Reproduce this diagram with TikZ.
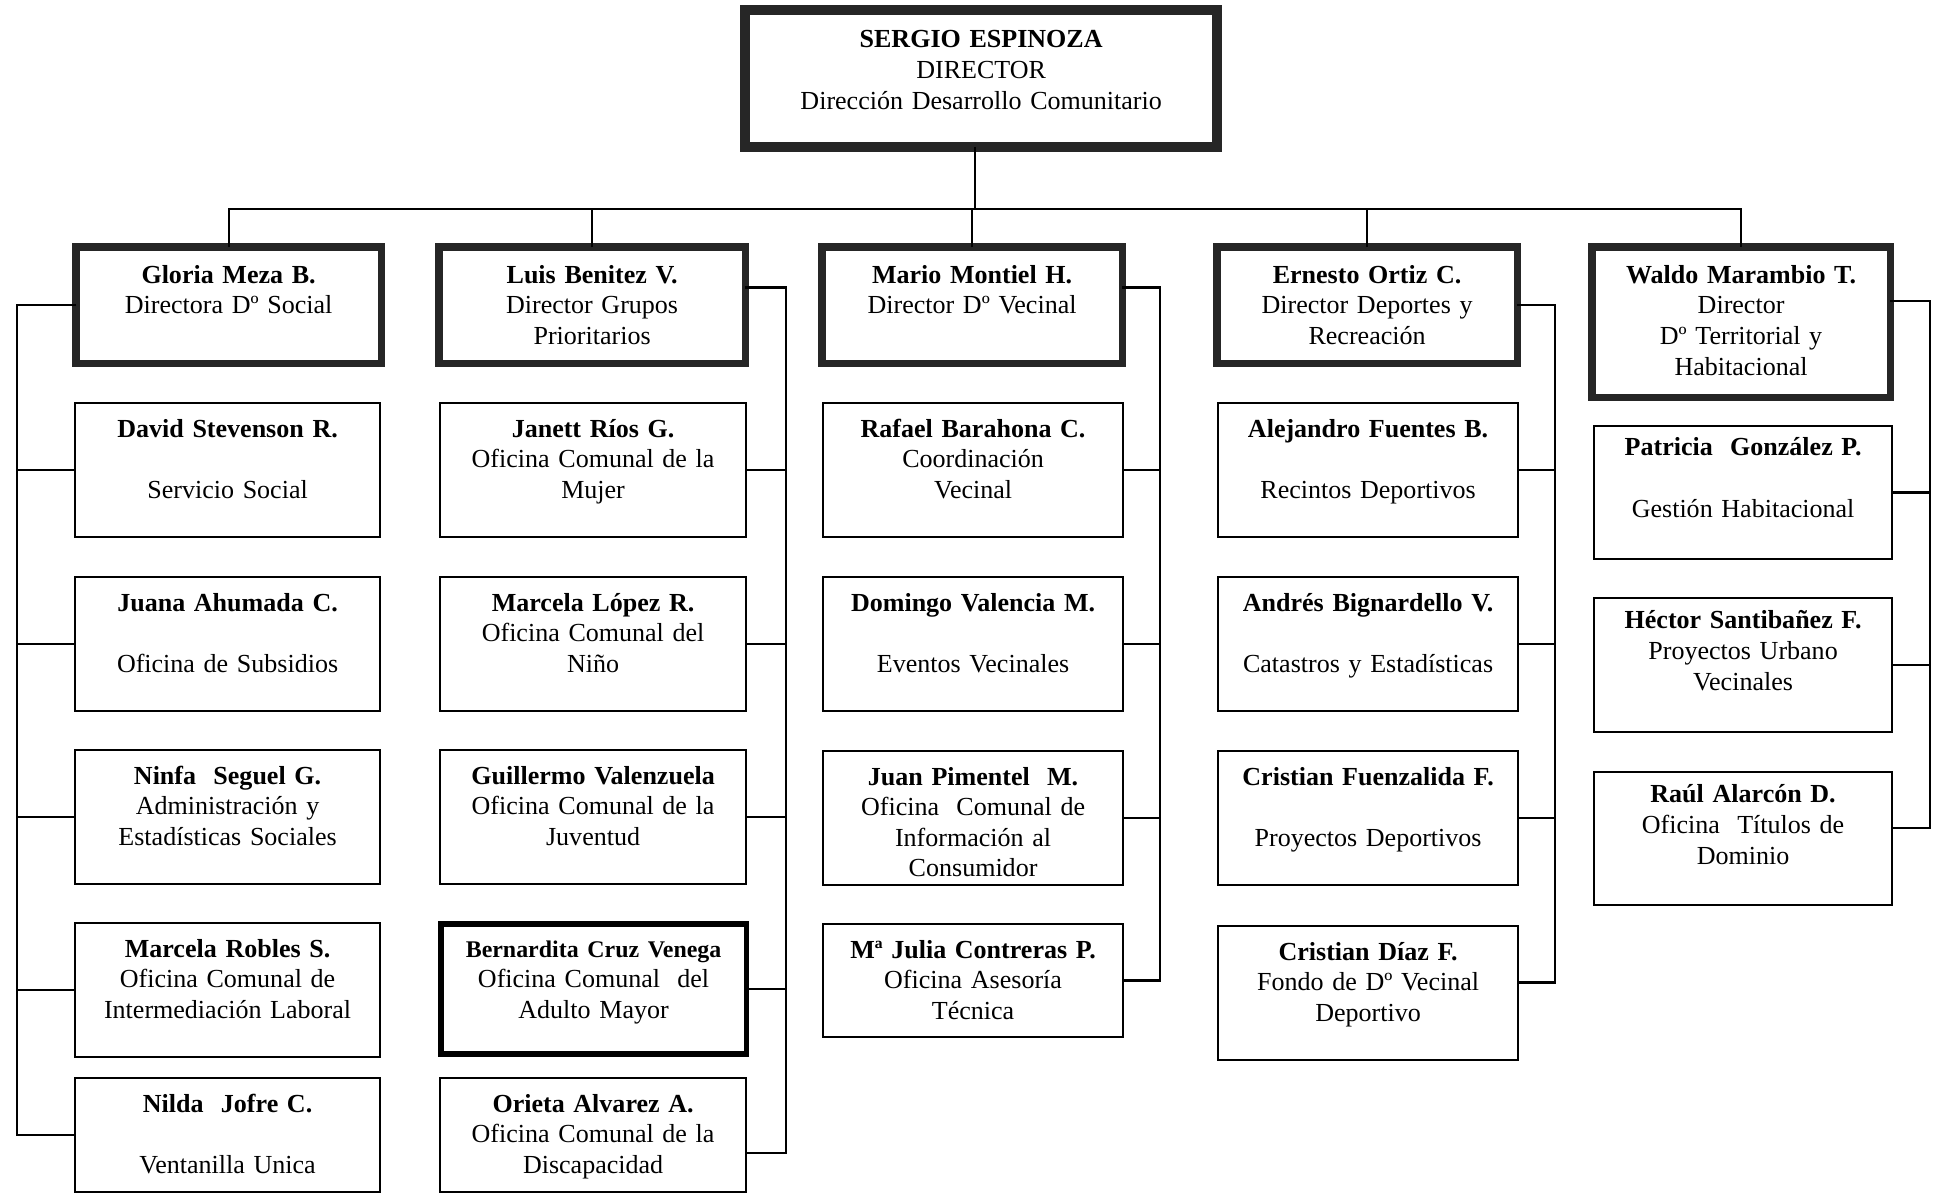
\documentclass[tikz,border=0pt]{standalone}
\usepackage{fontspec}
\setmainfont{Liberation Serif}
\usepackage{tikz}

\begin{document}
\begin{tikzpicture}[x=0.01cm, y=-0.01cm,
    every node/.style={font=\fontsize{7.4}{8.7}\selectfont},
    caja/.style={draw, anchor=north west, inner sep=0pt, outer sep=0pt, align=center, text width=3.05cm},
    jefe/.style={caja, draw=black!85, line width=2.8pt, text width=4.72cm, text height=10.8pt, text depth=28.1pt},
    director/.style={caja, draw=black!85, line width=2pt, text height=10.3pt, text depth=22.7pt},
    oficina/.style={caja, line width=0.6pt, text height=9.7pt, text depth=28.4pt},
    linea/.style={line width=0.6pt}]
    \useasboundingbox (0,0) rectangle (1941,1193);

    \node[jefe] (sergio) at (745,10) {\textbf{SERGIO ESPINOZA}\\ DIRECTOR\\ Dirección Desarrollo Comunitario};

    % Desarrollo Social
    \node[director] (gloria) at (76,247) {\textbf{Gloria Meza B.}\\ Directora Dº Social};
    \node[oficina] (david) at (75,403) {\textbf{David Stevenson R.}\\[8.7pt] Servicio Social};
    \node[oficina] (juana) at (75,577) {\textbf{Juana Ahumada C.}\\[8.7pt] Oficina de Subsidios};
    \node[oficina] (ninfa) at (75,750) {\textbf{Ninfa~ Seguel G.}\\ Administración y\\ Estadísticas Sociales};
    \node[oficina] (robles) at (75,923) {\textbf{Marcela Robles S.}\\ Oficina Comunal de\\ Intermediación Laboral};
    \node[oficina, text depth=22.7pt] (nilda) at (75,1078) {\textbf{Nilda~ Jofre C.}\\[8.7pt] Ventanilla Unica};

    % Grupos Prioritarios
    \node[director, text width=3.06cm] (luis) at (439,247) {\textbf{Luis Benitez V.}\\ Director Grupos\\ Prioritarios};
    \node[oficina, text width=3.06cm] (janett) at (440,403) {\textbf{Janett Ríos G.}\\ Oficina Comunal de la\\ Mujer};
    \node[oficina, text width=3.06cm] (lopez) at (440,577) {\textbf{Marcela López R.}\\ Oficina Comunal del\\ Niño};
    \node[oficina, text width=3.06cm] (guillermo) at (440,750) {\textbf{Guillermo Valenzuela}\\ Oficina Comunal de la\\ Juventud};
    \node[oficina, line width=1.5pt, text height=9.4pt, text depth=27.6pt] (bernardita) at (441,924) {{\fontsize{6.8}{8.7}\selectfont\bfseries Bernardita Cruz Venega}\\ Oficina Comunal~ del\\ Adulto Mayor};
    \node[oficina, text width=3.06cm, text depth=22.7pt] (orieta) at (440,1078) {\textbf{Orieta Alvarez A.}\\ Oficina Comunal de la\\ Discapacidad};

    % Desarrollo Vecinal
    \node[director, text width=3cm] (mario) at (822,247) {\textbf{Mario Montiel H.}\\ Director Dº Vecinal};
    \node[oficina, text width=3cm] (rafael) at (823,403) {\textbf{Rafael Barahona C.}\\ Coordinación\\ Vecinal};
    \node[oficina, text width=3cm] (domingo) at (823,577) {\textbf{Domingo Valencia M.}\\[8.7pt] Eventos Vecinales};
    \node[oficina, text width=3cm] (pimentel) at (823,751) {\textbf{Juan Pimentel~ M.}\\ Oficina~ Comunal de\\ Información al\\ Consumidor};
    \node[oficina, text width=3cm, text depth=22.4pt] (julia) at (823,924) {\textbf{Mª Julia Contreras P.}\\ Oficina Asesoría\\ Técnica};

    % Deportes y Recreacion
    \node[director, text width=3cm] (ernesto) at (1217,247) {\textbf{Ernesto Ortiz C.}\\ Director Deportes y\\ Recreación};
    \node[oficina, text width=3cm] (fuentes) at (1218,403) {\textbf{Alejandro Fuentes B.}\\[8.7pt] Recintos Deportivos};
    \node[oficina, text width=3cm] (bignardello) at (1218,577) {\textbf{Andrés Bignardello V.}\\[8.7pt] Catastros y Estadísticas};
    \node[oficina, text width=3cm] (fuenzalida) at (1218,751) {\textbf{Cristian Fuenzalida F.}\\[8.7pt] Proyectos Deportivos};
    \node[oficina, text width=3cm] (diaz) at (1218,926) {\textbf{Cristian Díaz F.}\\ Fondo de Dº Vecinal\\ Deportivo};

    % Territorial y Habitacional
    \node[director, text width=2.98cm, text depth=32.6pt] (waldo) at (1592,247) {\textbf{Waldo Marambio T.}\\ Director\\ Dº Territorial y\\ Habitacional};
    \node[oficina, text width=2.98cm, text height=8.5pt, text depth=29.3pt] (gonzalez) at (1594,426) {\textbf{Patricia~ González P.}\\[8.7pt] Gestión Habitacional};
    \node[oficina, text width=2.98cm, text height=8.8pt, text depth=29.2pt] (santibanez) at (1594,598) {\textbf{Héctor Santibañez F.}\\ Proyectos Urbano\\ Vecinales};
    \node[oficina, text width=2.98cm, text height=8.8pt, text depth=29pt] (raul) at (1594,772) {\textbf{Raúl Alarcón D.}\\ Oficina~ Títulos de\\ Dominio};

    \draw[linea] ([xshift=-1.7pt]sergio.south) -- ++(0,62) coordinate (bus); % sergio-bus
    \draw[linea] (gloria.north) |- (bus) -| (waldo.north); % gloria-waldo
    \draw[linea] (luis.north) -- (luis.north |- bus); % luis
    \draw[linea] (mario.north) -- (mario.north |- bus); % mario
    \draw[linea] (ernesto.north) -- (ernesto.north |- bus); % ernesto

    \draw[linea] (gloria.west) -- ++(-59,0) coordinate (c1) |- (nilda.west); % gloria-nilda
    \draw[linea] (david.west) -- (david.west -| c1);
    \draw[linea] (juana.west) -- (juana.west -| c1);
    \draw[linea] (ninfa.west) -- (ninfa.west -| c1);
    \draw[linea] (robles.west) -- (robles.west -| c1);

    \draw[linea] ([yshift=5pt]luis.east) -- ++(41,0) coordinate (c2) |- ([yshift=-5pt]orieta.east); % luis-orieta
    \draw[linea] (janett.east) -- (janett.east -| c2);
    \draw[linea] (lopez.east) -- (lopez.east -| c2);
    \draw[linea] (guillermo.east) -- (guillermo.east -| c2);
    \draw[linea] (bernardita.east) -- (bernardita.east -| c2);

    \draw[linea] ([yshift=5pt]mario.east) -- ++(38,0) coordinate (c3) |- (julia.east); % mario-julia
    \draw[linea] (rafael.east) -- (rafael.east -| c3);
    \draw[linea] (domingo.east) -- (domingo.east -| c3);
    \draw[linea] (pimentel.east) -- (pimentel.east -| c3);

    \draw[linea] (ernesto.east) -- ++(38,0) coordinate (c4) |- ([yshift=3pt]diaz.east); % ernesto-diaz
    \draw[linea] (fuentes.east) -- (fuentes.east -| c4);
    \draw[linea] (bignardello.east) -- (bignardello.east -| c4);
    \draw[linea] (fuenzalida.east) -- (fuenzalida.east -| c4);

    \draw[linea] ([yshift=6pt]waldo.east) -- ++(40,0) coordinate (c5) |- ([yshift=3pt]raul.east); % waldo-raul
    \draw[linea] (gonzalez.east) -- (gonzalez.east -| c5);
    \draw[linea] (santibanez.east) -- (santibanez.east -| c5);
\end{tikzpicture}
\end{document}
